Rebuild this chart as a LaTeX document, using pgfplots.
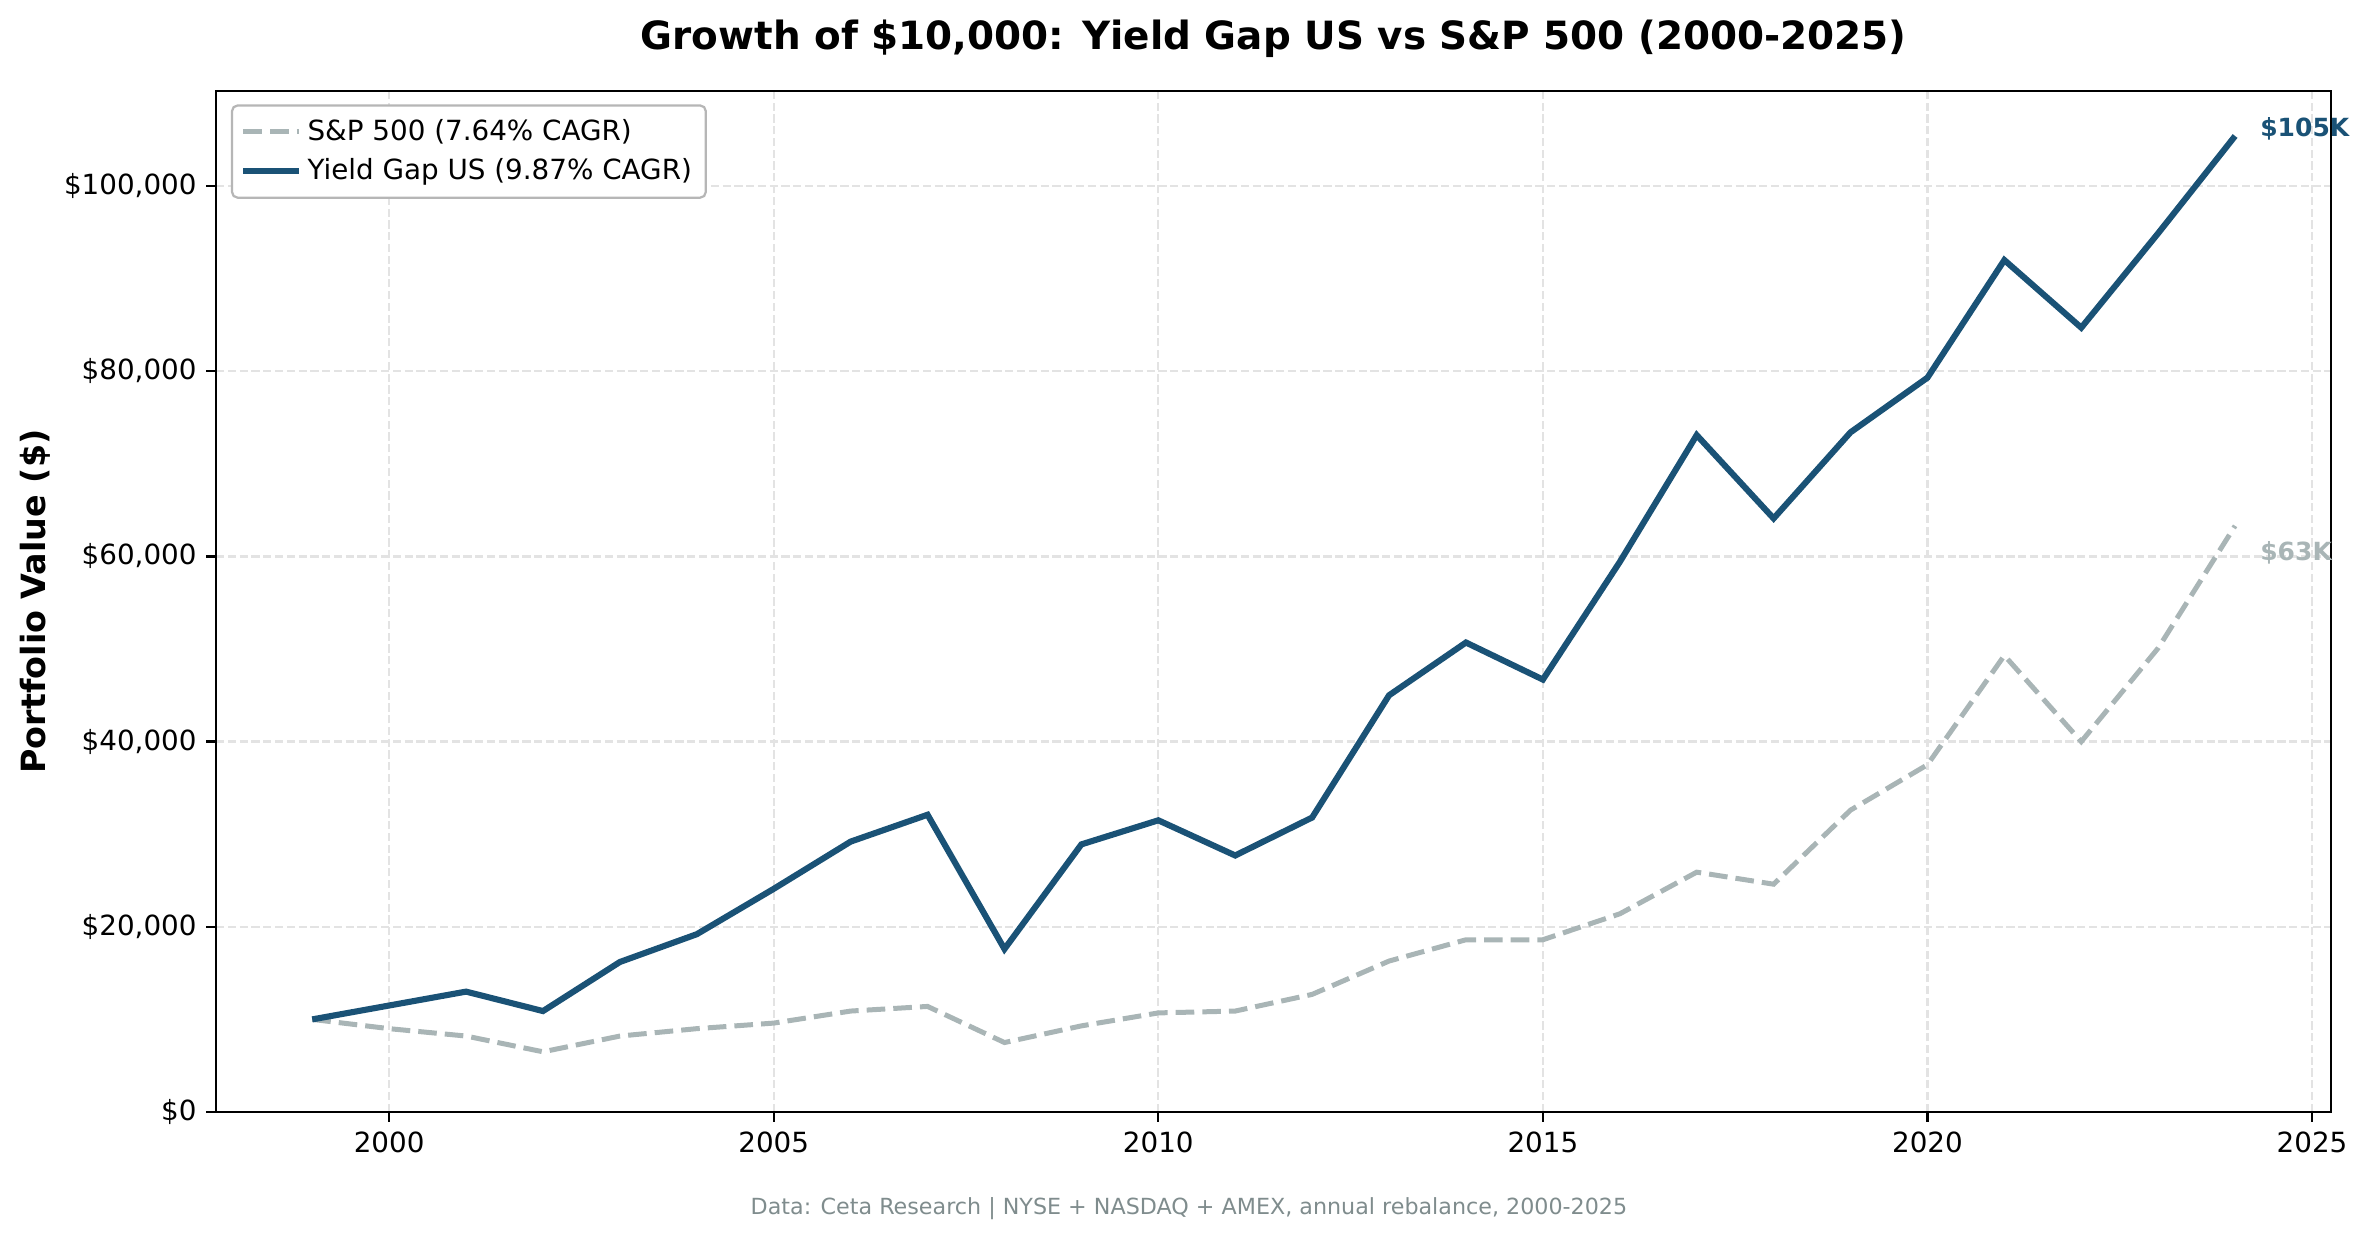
\documentclass[border=0pt]{standalone}
\usepackage{fontspec}
\setmainfont{DejaVu Sans}
\usepackage{pgfplots}
\pgfplotsset{compat=1.18}
\definecolor{ygblue}{HTML}{1A5276}
\definecolor{spgray}{HTML}{A9B5B6}
\definecolor{footgray}{HTML}{7F8C8D}
\definecolor{gridgray}{HTML}{E3E3E3}
\begin{document}
\begin{tikzpicture}
\begin{axis}[
  at={(0,0)}, anchor=south west,
  scale only axis,
  width=761.4pt, height=367.5pt,
  xmin=1997.75, xmax=2025.25,
  ymin=0, ymax=110250,
  clip mode=individual,
  xtick={2000,2005,...,2025},
  ytick={0,20000,...,100000},
  scaled y ticks=false,
  /pgf/number format/assume math mode=true,
  xticklabel style={/pgf/number format/1000 sep=},
  yticklabel={\$\pgfmathprintnumber[fixed,precision=0,1000 sep={,}]{\tick}},
  tick label style={font=\fontsize{10}{12}\selectfont},
  tick align=outside, major tick length=3.5pt,
  tick style={black, line width=0.8pt},
  axis line style={line width=0.8pt},
  xtick pos=bottom, ytick pos=left,
  grid=major,
  major grid style={gridgray, line width=0.8pt, dash pattern=on 2.96pt off 1.28pt},
  ylabel={Portfolio Value (\$)},
  ylabel style={font=\fontsize{12}{14}\selectfont\bfseries, at={(ticklabel cs:0.5)}, anchor=south, yshift=-2pt},
  legend cell align=left,
  legend style={font=\fontsize{10}{13}\selectfont, draw=gridgray!80!black, rounded corners=2pt,
    line width=0.8pt, at={(0.007,0.987)}, anchor=north west, inner sep=3pt,
    row sep=1pt},
  legend image code/.code={\draw[#1] (0pt,0pt) -- (20pt,0pt);},
]
\addplot[spgray, line width=1.8pt, dash pattern=on 6.7pt off 2.9pt] coordinates {
 (1999,10000) (2000,9000) (2001,8200) (2002,6500) (2003,8200) (2004,9000)
 (2005,9600) (2006,10900) (2007,11400) (2008,7500) (2009,9300) (2010,10700)
 (2011,10900) (2012,12700) (2013,16300) (2014,18600) (2015,18600) (2016,21400)
 (2017,25900) (2018,24600) (2019,32600) (2020,37500) (2021,49300) (2022,40000)
 (2023,50100) (2024,63300)};
\addlegendentry{S\&P 500 (7.64\% CAGR)}
\addplot[ygblue, line width=2.2pt] coordinates {
 (1999,10000) (2000,11500) (2001,13000) (2002,10900) (2003,16200) (2004,19200)
 (2005,24100) (2006,29200) (2007,32100) (2008,17600) (2009,28900) (2010,31500)
 (2011,27700) (2012,31800) (2013,45000) (2014,50700) (2015,46700) (2016,59400)
 (2017,73100) (2018,64100) (2019,73400) (2020,79300) (2021,92000) (2022,84700)
 (2023,94900) (2024,105400)};
\addlegendentry{Yield Gap US (9.87\% CAGR)}
\node[anchor=west, text=ygblue, font=\fontsize{9}{11}\selectfont\bfseries] at (axis cs:2024.2,106200) {\$105K};
\node[anchor=west, text=spgray, font=\fontsize{9}{11}\selectfont\bfseries] at (axis cs:2024.2,60400) {\$63K};
\end{axis}
\node[font=\fontsize{14}{17}\selectfont\bfseries] at (380.7pt,386.5pt) {Growth of \$10,000: Yield Gap US vs S\&P 500 (2000-2025)};
\node[font=\fontsize{8}{10}\selectfont, text=footgray] at (350.2pt,-34.9pt) {Data: Ceta Research | NYSE + NASDAQ + AMEX, annual rebalance, 2000-2025};
\pgfresetboundingbox
\path (-77.8pt,-45.7pt) rectangle (775.0pt,400.3pt);
\end{tikzpicture}
\end{document}
